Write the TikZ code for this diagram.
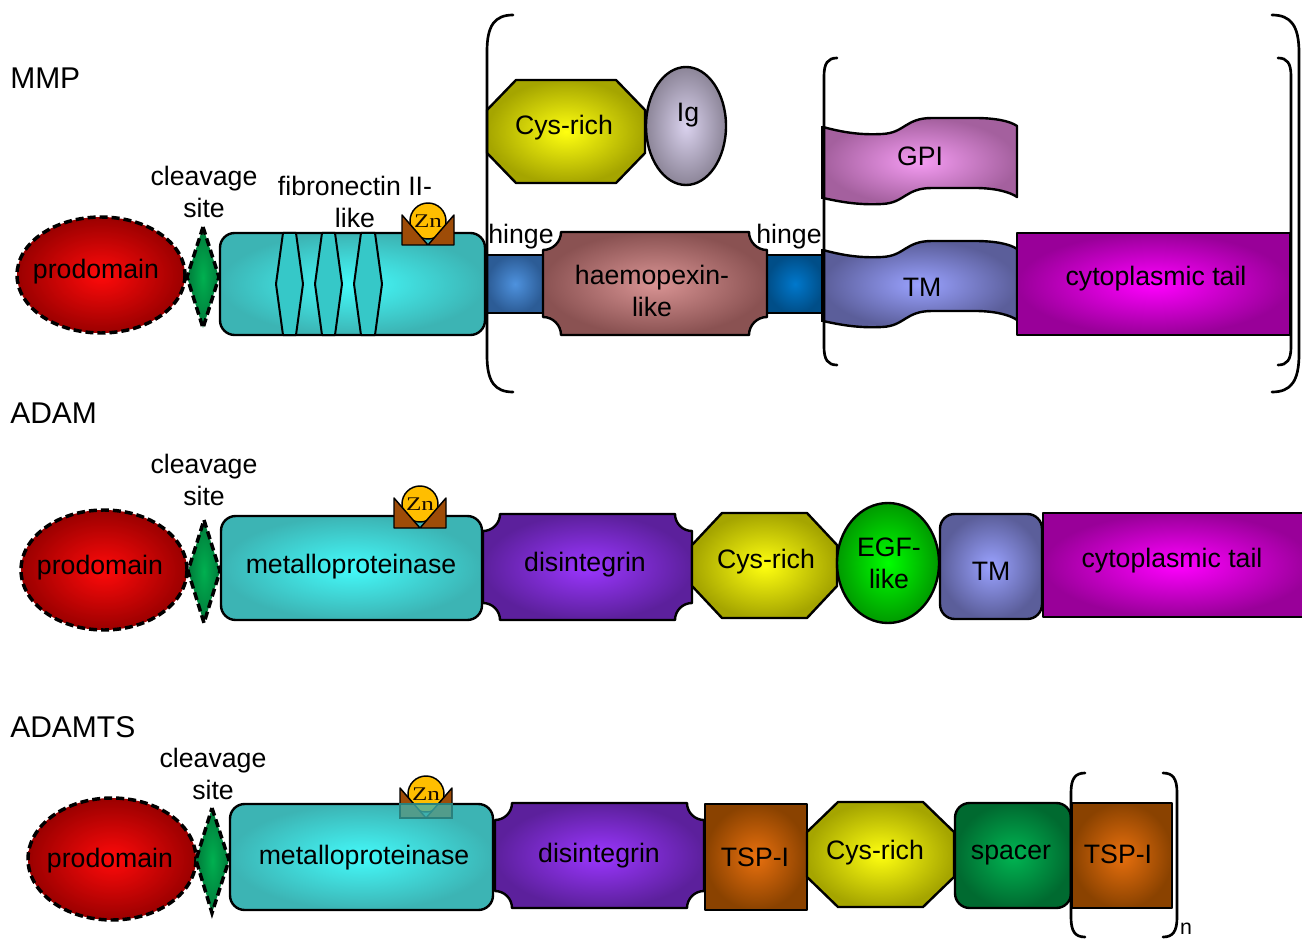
\documentclass[tikz,border=0pt]{standalone}
\usepackage{graphicx}
\usepackage{fontspec}
\setmainfont{Liberation Sans}
\newfontfamily\znfont{Liberation Serif}

% domain colours (centre / rim of each radial shading)
\definecolor{prodIn}{HTML}{FF0A0A}
\definecolor{prodOut}{HTML}{9A0000}
\definecolor{cleavIn}{HTML}{00B050}
\definecolor{cleavOut}{HTML}{007A3A}
\definecolor{catIn}{HTML}{44FAFA}
\definecolor{catOut}{HTML}{3CB4B4}
\definecolor{fnStrip}{HTML}{36C8C8}
\definecolor{znOrange}{HTML}{FFBE00}
\definecolor{znBrown}{HTML}{9E4C08}
\definecolor{cysIn}{HTML}{FFFF10}
\definecolor{cysOut}{HTML}{A5A500}
\definecolor{igIn}{HTML}{DAD2EE}
\definecolor{igOut}{HTML}{8C8598}
\definecolor{hingeAIn}{HTML}{4E92DE}
\definecolor{hingeAOut}{HTML}{2C5C96}
\definecolor{hingeBIn}{HTML}{0078CC}
\definecolor{hingeBOut}{HTML}{004E88}
\definecolor{hpxIn}{HTML}{D99494}
\definecolor{hpxOut}{HTML}{8A5252}
\definecolor{gpiIn}{HTML}{F59CF3}
\definecolor{gpiOut}{HTML}{A4609E}
\definecolor{tmIn}{HTML}{9AA2FF}
\definecolor{tmOut}{HTML}{5B5E9A}
\definecolor{tailIn}{HTML}{FF00FF}
\definecolor{tailOut}{HTML}{990099}
\definecolor{disIn}{HTML}{9B36FF}
\definecolor{disOut}{HTML}{5C209C}
\definecolor{egfIn}{HTML}{00FF00}
\definecolor{egfOut}{HTML}{009A00}
\definecolor{tspIn}{HTML}{E8700E}
\definecolor{tspOut}{HTML}{8A4200}
\definecolor{spacerIn}{HTML}{00B552}
\definecolor{spacerOut}{HTML}{006A30}
\definecolor{catVeil}{HTML}{3FB0AC}
\definecolor{catVeilEdge}{HTML}{2A807C}

\tikzset{
  outline/.style={draw=black, line width=1.8pt, line join=round},
  dashedge/.style={draw=black, line width=2.6pt, dash pattern=on 6pt off 3pt},
  shadeby/.style 2 args={inner color=#1, outer color=#2},
  lbl/.style={font=\fontsize{20}{24}\selectfont, align=center, inner sep=0pt},
  rowlbl/.style={font=\fontsize{22.5}{27}\selectfont, anchor=west, inner sep=0pt},
  brace/.style={draw=black, line width=2pt, line cap=round},
}

% octagon: options, x1, y1, x2, y2, corner dx, corner dy
\newcommand\octbox[7]{%
  \path[#1] ({#2+#6},#3) -- ({#4-#6},#3) -- (#4,{#3+#7}) -- (#4,{#5-#7})
    -- ({#4-#6},#5) -- ({#2+#6},#5) -- (#2,{#5-#7}) -- (#2,{#3+#7}) -- cycle;}

% box with concave (notched) corners: options, x1, y1, x2, y2, notch radius
\newcommand\notchbox[6]{%
  \path[#1] ({#2+#6},#3) -- ({#4-#6},#3)
    .. controls ({#4-#6},{#3+0.55*#6}) and ({#4-0.55*#6},{#3+#6}) .. (#4,{#3+#6})
    -- (#4,{#5-#6})
    .. controls ({#4-0.55*#6},{#5-#6}) and ({#4-#6},{#5-0.55*#6}) .. ({#4-#6},#5)
    -- ({#2+#6},#5)
    .. controls ({#2+#6},{#5-0.55*#6}) and ({#2+0.55*#6},{#5-#6}) .. (#2,{#5-#6})
    -- (#2,{#3+#6})
    .. controls ({#2+0.55*#6},{#3+#6}) and ({#2+#6},{#3+0.55*#6}) .. ({#2+#6},#3) -- cycle;}

% membrane-anchor ribbon: options, vertical offset
\newcommand\ribbon[2]{%
  \path[#1] (823,{127+#2}) .. controls (845,{133+#2}) and (862,{135+#2}) .. (882,{134+#2})
    .. controls (905,{133+#2}) and (905,{118+#2}) .. (932,{118+#2}) -- (975,{118+#2})
    .. controls (995,{118+#2}) and (1010,{121+#2}) .. (1017,{126+#2})
    -- (1017,{197+#2})
    .. controls (1010,{192+#2}) and (995,{188+#2}) .. (975,{188+#2}) -- (932,{188+#2})
    .. controls (905,{188+#2}) and (905,{203+#2}) .. (882,{204+#2})
    .. controls (862,{205+#2}) and (845,{203+#2}) .. (823,{198+#2}) -- cycle;
  \draw[line width=2.6pt] (823,{126+#2}) -- (823,{199+#2});}

% round bracket: stem x, tip x, top y, bottom y
\newcommand\paren[4]{%
  \draw[brace] (#2,#3) .. controls ({#1+0.3*(#2-#1)},#3) and (#1,{#3+0.4*abs(#2-#1)})
    .. (#1,{#3+1.4*abs(#2-#1)}) -- (#1,{#4-1.4*abs(#2-#1)})
    .. controls (#1,{#4-0.4*abs(#2-#1)}) and ({#1+0.3*(#2-#1)},#4) .. (#2,#4);}

% zinc-binding site: centre x, top y, node name
\newcommand\znsite[3]{%
  \fill[znBrown] ({#1-26},#2) -- ({#1-26},{#2+30}) -- ({#1+26},{#2+30})
    -- ({#1+26},#2) -- (#1,{#2+30}) -- cycle;
  \begin{scope}
    \clip ({#1-26},{#2-30}) -- ({#1+26},{#2-30}) -- ({#1+26},#2)
      -- (#1,{#2+30}) -- ({#1-26},#2) -- cycle;
    \filldraw[fill=znOrange, draw=black, line width=1.1pt] (#1,{#2+6}) circle[radius=18];
  \end{scope}
  \draw[line width=1.1pt, line join=round] ({#1-26},#2) -- ({#1-26},{#2+30})
    -- ({#1+26},{#2+30}) -- ({#1+26},#2) -- (#1,{#2+30}) -- cycle;
  \node[font=\znfont\fontsize{14.5}{14.5}\selectfont, inner sep=0pt, text=black!85!znBrown]
    (#3) at (#1,{#2+6}) {\scalebox{1.3}[1]{Zn}};}

\begin{document}
\begin{tikzpicture}[x=0.75pt, y=-0.75pt]
\clip (0,0) rectangle (1302,941);
\fill[white] (0,0) rectangle (1302,941);

%% ---------------- MMP ----------------
\node[rowlbl] (mmp) at (10,78) {MMP};

\path[dashedge, shadeby={prodIn}{prodOut}] (101,275) ellipse[x radius=84, y radius=58];
\path[dashedge, shadeby={cleavIn}{cleavOut}] (203,227) -- (219,277) -- (203,328) -- (187,277) -- cycle;
\path[outline, shadeby={catIn}{catOut}, rounded corners=11pt] (220,233) rectangle (485,335);
\foreach \a/\b in {276/303, 315/342, 354/382}
  \filldraw[fill=fnStrip, draw=black, line width=1.5pt, line join=round]
    ({\a+7},233) -- ({\b-7},233) -- (\b,284) -- ({\b-7},335) -- ({\a+7},335) -- (\a,284) -- cycle;
\znsite{428}{215}{mmpzn}

% hinge -- haemopexin -- hinge
\path[outline, shadeby={hingeAIn}{hingeAOut}] (487,255) rectangle (543,313);
\path[outline, shadeby={hingeBIn}{hingeBOut}] (767,255) rectangle (823,313);
\notchbox{outline, shadeby={hpxIn}{hpxOut}}{543}{232}{767}{335}{18}

% alternative Cys-rich / Ig pair
\octbox{outline, shadeby={cysIn}{cysOut}}{487}{80}{645}{183}{29}{30}
\path[outline, shadeby={igIn}{igOut}] (686,126) ellipse[x radius=40, y radius=59];

% membrane anchors and tail
\ribbon{outline, shadeby={gpiIn}{gpiOut}}{0}
\ribbon{outline, shadeby={tmIn}{tmOut}}{123}
\path[outline, shadeby={tailIn}{tailOut}] (1017,233) rectangle (1290,335);

% brackets
\paren{487}{513}{15}{392}
\paren{1299}{1272}{15}{392}
\paren{824}{837}{58}{365}
\paren{1291}{1278}{58}{365}

\node[lbl] (mmpprod) at (96,272) {prodomain};
\node[lbl] (mmpcleav) at (204,192) {cleavage\\site};
\node[lbl] (mmpfn) at (355,202) {fibronectin II-\\like};
\node[lbl] (mmphingeA) at (521,237) {hinge};
\node[lbl] (mmphingeB) at (789,237) {hinge};
\node[lbl] (mmpcys) at (564,128) {Cys-rich};
\node[lbl] (mmpig) at (688,115) {Ig};
\node[lbl] (mmphpx) at (652,291) {haemopexin-\\like};
\node[lbl] (mmpgpi) at (920,156) {GPI};
\node[lbl] (mmptm) at (922,287) {TM};
\node[lbl] (mmptail) at (1156,279) {cytoplasmic tail};

%% ---------------- ADAM ----------------
\node[rowlbl] (adam) at (10,413) {ADAM};

\path[dashedge, shadeby={prodIn}{prodOut}] (104,570) ellipse[x radius=83, y radius=60];
\path[dashedge, shadeby={cleavIn}{cleavOut}] (204,520) -- (220,571) -- (204,623) -- (188,571) -- cycle;
\path[outline, shadeby={catIn}{catOut}, rounded corners=11pt] (221,516) rectangle (482,620);
\znsite{420}{498}{adamzn}
\notchbox{outline, shadeby={disIn}{disOut}}{483}{514}{692}{620}{17}
\octbox{outline, shadeby={cysIn}{cysOut}}{692}{513}{837}{618}{30}{32}
\path[outline, shadeby={egfIn}{egfOut}] (888,563) ellipse[x radius=51, y radius=60];
\path[outline, shadeby={tmIn}{tmOut}, rounded corners=11pt] (940,514) rectangle (1042,619);
\path[outline, shadeby={tailIn}{tailOut}] (1043,513) rectangle (1312,617);

\node[lbl] (adamprod) at (100,568) {prodomain};
\node[lbl] (adamcleav) at (204,480) {cleavage\\site};
\node[lbl] (adammet) at (351,567) {metalloproteinase};
\node[lbl] (adamdis) at (585,565) {disintegrin};
\node[lbl] (adamcys) at (766,562) {Cys-rich};
\node[lbl] (adamegf) at (889,563) {EGF-\\like};
\node[lbl] (adamtm) at (991,571) {TM};
\node[lbl] (adamtail) at (1172,561) {cytoplasmic tail};

%% ---------------- ADAMTS ----------------
\node[rowlbl] (adamts) at (10,727) {ADAMTS};

\path[dashedge, shadeby={prodIn}{prodOut}] (112,859) ellipse[x radius=84, y radius=61];
\path[dashedge, shadeby={cleavIn}{cleavOut}] (212,808) -- (229,860) -- (212,913) -- (196,860) -- cycle;
\path[outline, shadeby={catIn}{catOut}, rounded corners=11pt] (230,804) rectangle (493,910);
\znsite{426}{788}{adamtszn}
\filldraw[fill=catVeil, draw=catVeilEdge, line width=1pt, fill opacity=0.8] (400,804) rectangle (452,818);
\notchbox{outline, shadeby={disIn}{disOut}}{495}{803}{704}{908}{17}
\path[outline, shadeby={tspIn}{tspOut}] (705,804) rectangle (807,910);
\octbox{outline, shadeby={cysIn}{cysOut}}{807}{802}{954}{907}{31}{30}
\path[outline, shadeby={spacerIn}{spacerOut}, rounded corners=11pt] (955,803) rectangle (1071,908);
\path[outline, shadeby={tspIn}{tspOut}] (1072,803) rectangle (1172,908);
\paren{1071}{1085}{773}{937}
\paren{1177}{1163}{773}{937}

\node[lbl] (adamtsprod) at (110,861) {prodomain};
\node[lbl] (adamtscleav) at (213,774) {cleavage\\site};
\node[lbl] (adamtsmet) at (364,858) {metalloproteinase};
\node[lbl] (adamtsdis) at (599,856) {disintegrin};
\node[lbl] (adamtstspA) at (755,857) {TSP-I};
\node[lbl] (adamtscys) at (875,853) {Cys-rich};
\node[lbl] (adamtsspacer) at (1011,855) {spacer};
\node[lbl] (adamtstspB) at (1118,854) {TSP-I};
\node[font=\fontsize{16}{16}\selectfont, inner sep=0pt] (repeatn) at (1186,929) {n};
\end{tikzpicture}
\end{document}
